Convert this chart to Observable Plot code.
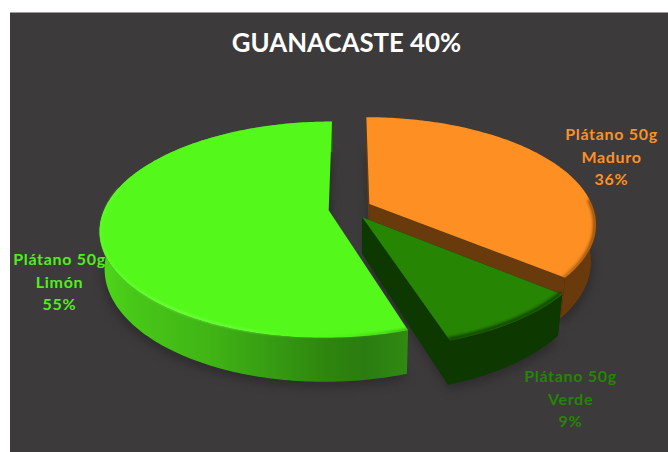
<!DOCTYPE html>
<html>
<head>
<meta charset="utf-8">
<script src="https://cdn.jsdelivr.net/npm/d3@7"></script>
<script src="https://cdn.jsdelivr.net/npm/@observablehq/plot@0.6"></script>
<style>
  html, body { margin: 0; padding: 0; background: #fff; }
  svg { display: block; }
  .slice-label text { letter-spacing: 0.7px; }
</style>
</head>
<body>
<div id="chart"></div>
<script>
// Ripeness shares of 50 g plantain servings in Guanacaste
const chartTitle = "GUANACASTE 40%";
const productName = "Plátano 50g";
const ripeness = ["Maduro", "Verde", "Limón"];
const shares = [36, 9, 55];
const topColors = ["#fe8f22", "#268502", "#54f91b"];
const labelColors = ["#fd9027", "#268502", "#52ee1c"];
const wallColors = ["#693a0c", "#0d3900", "url(#limeWall)"];
const rimColors = ["url(#maduroRim)", "#0d3900", "url(#limeRim)"];

// Scene: a unit disc seen in perspective, pulled apart along each slice's middle angle
const W = 668, H = 452;
const centerX = 349.5, centerY = 208;   // pixel position of the disc centre
const unitX = 224, unitY = 104;         // pixels per scene unit at the centre
const tilt = 0.18;                      // foreshortening toward the far edge
const thickness = 36 / unitY;           // wall height in scene units
const taper = 0.98;                     // the lower rim shrinks slightly
const explodeAcross = 0.096, explodeDepth = 0.1;

const project = (u, v) => {
  const w = 1 + tilt * v;
  return {x: u / w, y: v / w, w};
};
const lower = (p) => ({x: p.x * taper, y: p.y - thickness / p.w});

const arcs = d3.pie().sort(null).value((d) => d)(shares);
const slices = arcs.map((a, i) => {
  const mid = (a.startAngle + a.endAngle) / 2;
  const ox = explodeAcross * Math.sin(mid), oy = explodeDepth * Math.cos(mid);
  const rimAt = (t, r = 1) => project(ox + r * Math.sin(t), oy + r * Math.cos(t));
  const sweep = (t0, t1, r = 1) => {
    const n = Math.max(2, Math.ceil(Math.abs(t1 - t0) * 60));
    return d3.range(n + 1).map((k) => rimAt(t0 + ((t1 - t0) * k) / n, r));
  };
  const apex = project(ox, oy);
  const rim = sweep(a.startAngle, a.endAngle);
  const cutFace = (t) => {
    const p = rimAt(t);
    return [apex, p, lower(p), lower(apex)];
  };
  return {
    i, a, sweep, rimAt,
    top: [apex, ...rim],
    floor: [apex, ...rim].map(lower),
    wall: [...rim, ...rim.map(lower).reverse()],
    cuts: [cutFace(a.startAngle), cutFace(a.endAngle)]
  };
});

// Outlined polygon drawn through the chart's x and y scales
const poly = (points, options) => Plot.line(points, {x: "x", y: "y", curve: "linear-closed", stroke: "none", ...options});
const stroke = (points, options) => Plot.line(points, {x: "x", y: "y", fill: "none", ...options});

const deg = Math.PI / 180;
const gradient = (id, stops) => {
  const g = d3.create("svg:linearGradient").attr("id", id);
  stops.forEach(([o, c, a = 1]) => g.append("stop").attr("offset", o).attr("stop-color", c).attr("stop-opacity", a));
  return g.node();
};

const sliceMarks = (s) => {
  const marks = [];
  if (s.i < 2) s.cuts.forEach((c) => marks.push(poly(c, {fill: wallColors[s.i]})));
  marks.push(poly(s.wall, {fill: wallColors[s.i]}));
  marks.push(poly(s.top, {fill: topColors[s.i]}));
  return marks;
};

const label = (i, px, py) => Plot.text([`${productName}\n${ripeness[i]}\n${shares[i]}%`], {
  text: (d) => d, frameAnchor: "top-left", dx: px, dy: py, lineAnchor: "middle", textAnchor: "middle",
  fill: labelColors[i], fontFamily: "Lato", fontWeight: 700, fontSize: 16, lineHeight: 1.42,
  className: "slice-label"
});

const [maduro, verde, limon] = slices;

const plot = Plot.plot({
  width: W, height: H, margin: 0,
  style: {background: "#fff"},
  x: {domain: [-centerX / unitX, (W - centerX) / unitX], range: [0, W], axis: null},
  y: {domain: [centerY / unitY, -(H - centerY) / unitY], range: [0, H], axis: null},
  marks: [
    () => {
      const defs = d3.create("svg:defs");
      defs.append(() => gradient("limeWall", [[0, "#4fd81a"], [0.1, "#48c818"], [0.35, "#40b515"], [0.55, "#369d12"], [0.74, "#2e850e"], [0.86, "#2a7c10"], [1, "#318a12"]]));
      defs.append(() => gradient("limeRim", [[0, "#68fb38", 0.5], [0.25, "#78ff4e", 0.9], [0.5, "#70ff42", 0.8], [0.7, "#54f91b", 0.2], [1, "#2f8a12", 0.7]]));
      defs.append(() => gradient("maduroRim", [[0, "#693a0c", 0.55], [1, "#693a0c", 1]]));
      return defs.node();
    },
    Plot.frame({fill: "#3c3a3b", stroke: "none", insetLeft: 9.5, insetTop: 12}),

    // soft shadow under the three pieces
    ...slices.map((s) => poly(s.floor.map((p) => ({x: p.x * 1.008, y: p.y - 0.05})), {fill: "#282727", fillOpacity: 0.7, imageFilter: "blur(5px)"})),

    ...sliceMarks(maduro),
    stroke(maduro.sweep(88 * deg, maduro.a.endAngle, 0.995), {stroke: rimColors[0], strokeWidth: 2.5, imageFilter: "blur(1.5px)"}),
    ...sliceMarks(verde),
    stroke(verde.sweep(verde.a.startAngle, verde.a.endAngle, 0.99), {stroke: rimColors[1], strokeWidth: 3, imageFilter: "blur(1.6px)"}),
    ...sliceMarks(limon),
    stroke(limon.sweep(limon.a.startAngle, 282 * deg, 0.993), {stroke: rimColors[2], strokeWidth: 2, imageFilter: "blur(1.1px)"}),

    Plot.text([chartTitle], {
      text: (d) => d, frameAnchor: "top-left", dx: 346, dy: 43, lineAnchor: "middle", textAnchor: "middle",
      fill: "#fff", fontFamily: "Lato", fontWeight: 700, fontSize: 25.8
    }),
    label(0, 611, 155),
    label(1, 570, 397),
    label(2, 59, 280)
  ]
});
document.getElementById("chart").append(plot);
</script>
</body>
</html>
